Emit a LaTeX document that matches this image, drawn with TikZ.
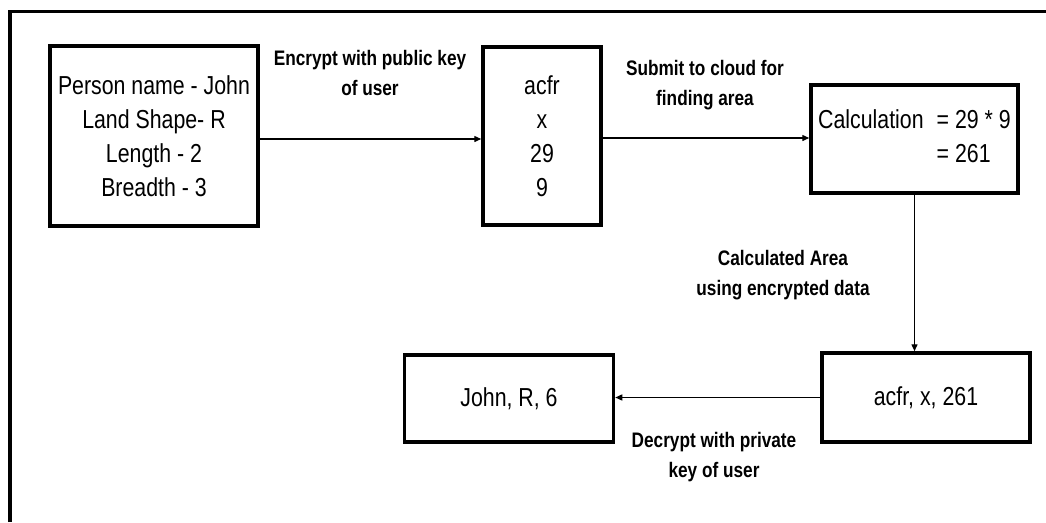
\documentclass[tikz,border=0pt]{standalone}
\usepackage{fontspec}
\setmainfont[FakeStretch=0.82]{Liberation Sans}
\usetikzlibrary{arrows.meta}
\tikzset{
  boxnode/.style={draw, line width=3.5pt, inner sep=0pt, align=center,
    font=\fontsize{26}{34}\selectfont},
  flowlabel/.style={align=center, inner sep=0pt,
    font=\fontsize{21}{30}\selectfont\bfseries},
  arr/.style={line width=1.4pt, -{Triangle[length=7pt,width=6pt]}},
  frameline/.style={line width=3.5pt}
}
\begin{document}
\begin{tikzpicture}[x=1pt,y=-1pt]
  \useasboundingbox (0,0) rectangle (1046,522);
  % page frame (top and left edges)
  \coordinate (ftl) at (10,11.5);
  \coordinate (ftr) at (1046,11.5);
  \coordinate (fbl) at (10,522);
  \draw[frameline] (fbl) -- (ftl) -- (ftr);

  % boxes
  \node[boxnode, minimum width=208pt, minimum height=180pt] (owner) at (154,136)
    {Person name - John\\Land Shape- R\\Length - 2\\Breadth - 3};
  \node[boxnode, minimum width=118pt, minimum height=178pt] (cipher) at (542,136)
    {acfr\\x\\29\\9};
  \node[boxnode, minimum width=207pt, minimum height=108pt] (cloud) at (914.5,139)
    {\begin{tabular}{@{}l@{\hspace{13pt}}l@{}}Calculation & = 29 * 9\\ & = 261\end{tabular}};
  \node[boxnode, minimum width=208pt, minimum height=89pt] (result) at (926,397.5)
    {acfr, x, 261};
  \node[boxnode, minimum width=209pt, minimum height=87pt] (plain) at (509,398.5)
    {John, R, 6};

  % connectors
  \draw[arr] (owner.east |- 0,139) -- (cipher.west |- 0,139);
  \draw[arr] (cipher.east |- 0,138) -- (cloud.west |- 0,138);
  \draw[arr] (cloud.south) -- (cloud.south |- result.north);
  \draw[arr] (result.west) -- (result.west -| plain.east);

  % connector labels
  \node[flowlabel] (encl) at (370,73) {Encrypt with public key\\of user};
  \node[flowlabel] (subl) at (705,85) {Submit to cloud for\\finding area};
  \node[flowlabel] (areal) at (783,275) {Calculated Area\\using encrypted data};
  \node[flowlabel] (decl) at (714,457) {Decrypt with private\\key of user};
\end{tikzpicture}
\end{document}
